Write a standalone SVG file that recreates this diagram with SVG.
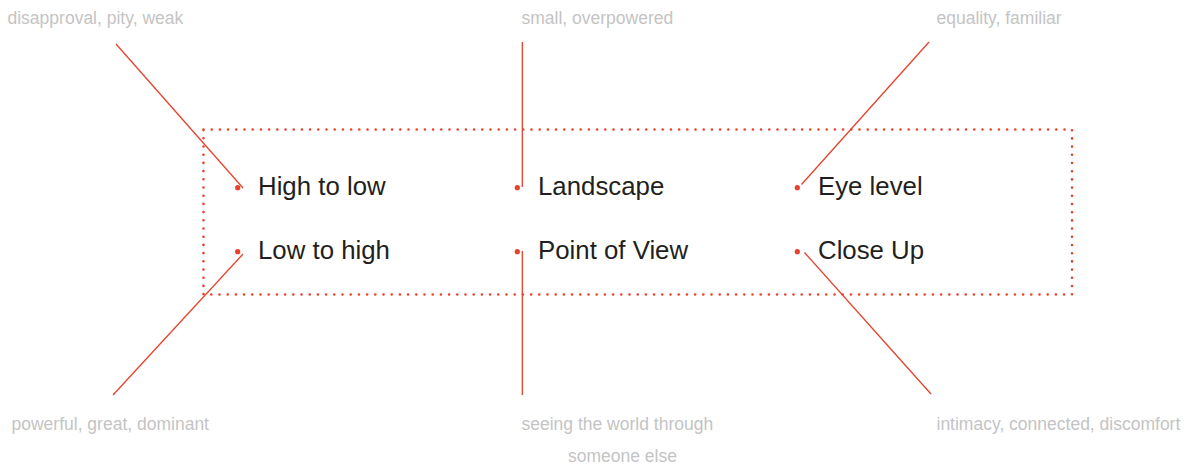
<svg xmlns="http://www.w3.org/2000/svg" width="1194" height="468" viewBox="0 0 1194 468">
<style>
.lbl{font-family:"Liberation Sans",Arial,sans-serif;font-size:25.8px;fill:#231f20}
.note{font-family:"Liberation Sans",Arial,sans-serif;font-size:17.5px;fill:#c4c4c4}
.dot{fill:#e8412c}
.conn{stroke:#e8412c;stroke-width:1.3;fill:none}
</style>
<rect x="0" y="0" width="1194" height="468" fill="#ffffff"/>
<rect id="frame" x="203.5" y="129.5" width="868.5" height="165" fill="none" stroke="#e8412c" stroke-width="2.6" stroke-dasharray="0 8.2" stroke-linecap="round"/>
<g id="connectors">
<line class="conn" x1="116" y1="44" x2="243" y2="188"/>
<line class="conn" x1="522.3" y1="42" x2="522.3" y2="187"/>
<line class="conn" x1="929" y1="42" x2="801.5" y2="184.5"/>
<line class="conn" x1="243" y1="254" x2="113" y2="395"/>
<line class="conn" x1="522.3" y1="251" x2="522.3" y2="395"/>
<line class="conn" x1="804.5" y1="252.5" x2="931" y2="394"/>
</g>
<g id="node-high-to-low"><circle class="dot" cx="237.7" cy="187.7" r="2.6"/><text class="lbl" x="258" y="195">High to low</text></g>
<g id="node-low-to-high"><circle class="dot" cx="237.7" cy="251.7" r="2.6"/><text class="lbl" x="258" y="258.5">Low to high</text></g>
<g id="node-landscape"><circle class="dot" cx="517.3" cy="187.7" r="2.6"/><text class="lbl" x="538" y="195">Landscape</text></g>
<g id="node-point-of-view"><circle class="dot" cx="517.3" cy="251.7" r="2.6"/><text class="lbl" x="538" y="258.5">Point of View</text></g>
<g id="node-eye-level"><circle class="dot" cx="797.3" cy="187.7" r="2.6"/><text class="lbl" x="818" y="195">Eye level</text></g>
<g id="node-close-up"><circle class="dot" cx="797.3" cy="251.7" r="2.6"/><text class="lbl" x="818" y="258.5">Close Up</text></g>
<g id="note-disapproval"><text class="note" x="7.5" y="24">disapproval, pity, weak</text></g>
<g id="note-small"><text class="note" x="521.5" y="24">small, overpowered</text></g>
<g id="note-equality"><text class="note" x="936.5" y="24">equality, familiar</text></g>
<g id="note-powerful"><text class="note" x="11.5" y="430">powerful, great, dominant</text></g>
<g id="note-seeing"><text class="note" x="521.5" y="430">seeing the world through</text><text class="note" x="622.5" y="461.5" text-anchor="middle">someone else</text></g>
<g id="note-intimacy"><text class="note" x="936.5" y="430">intimacy, connected, discomfort</text></g>
</svg>
